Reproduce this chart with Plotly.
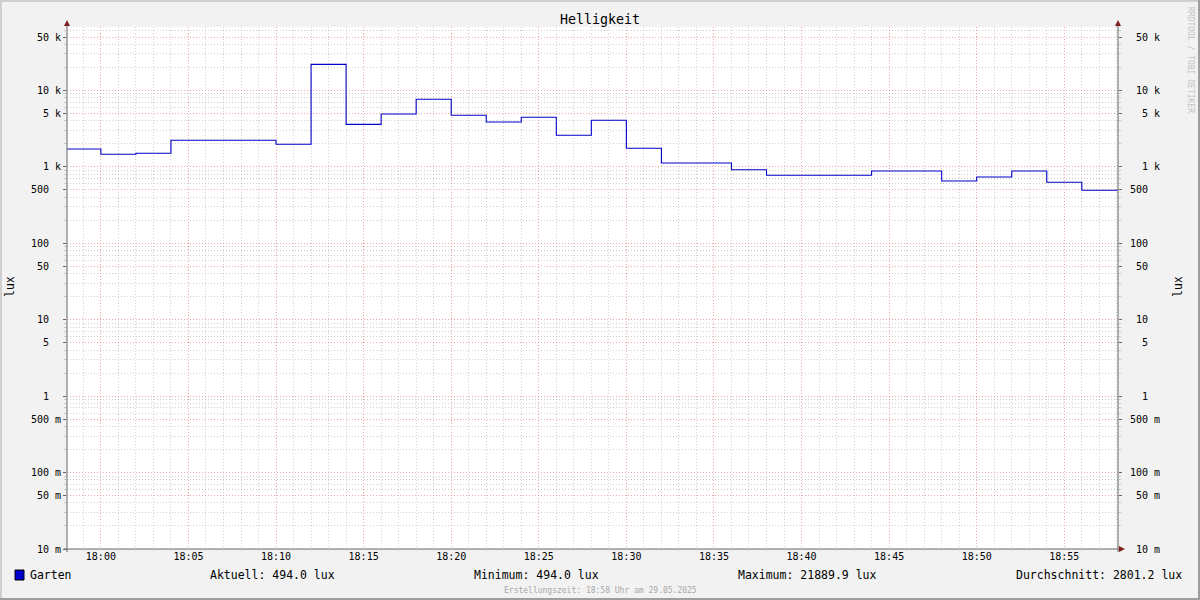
import plotly.graph_objects as go

# ---------------- data ----------------
DATE = "2025-05-29"
start_time = "17:58:04"
end_time = "18:58:04"
step_times = ["17:58:04", "18:00", "18:02", "18:04", "18:10", "18:12", "18:14", "18:16",
              "18:18", "18:20", "18:22", "18:24", "18:26", "18:28", "18:30", "18:32",
              "18:36", "18:38", "18:44", "18:48", "18:50", "18:52", "18:54", "18:56"]
lux_values = [1710, 1460, 1505, 2225, 1975, 21889.9, 3600, 4920,
              7650, 4730, 3860, 4450, 2590, 4065, 1750, 1123,
              918, 775, 883, 653, 737, 883, 628, 494.0]

y_tick_values = [0.01, 0.05, 0.1, 0.5, 1, 5, 10, 50, 100, 500, 1000, 5000, 10000, 50000]
y_tick_numbers = ["10", "50", "100", "500", "1", "5", "10", "50", "100", "500", "1", "5", "10", "50"]
y_tick_units = ["m", "m", "m", "m", "", "", "", "", "", "", "k", "k", "k", "k"]

title_text = "Helligkeit"
axis_label = "lux"
series_name = "Garten"
legend_stats = ["Aktuell: 494.0 lux", "Minimum: 494.0 lux",
                "Maximum: 21889.9 lux", "Durchschnitt: 2801.2 lux"]
footer_text = "Erstellungszeit: 18:58 Uhr am 29.05.2025"
watermark_text = "RRDTOOL / TOBI OETIKER"

# ---------------- geometry ----------------
W, H = 1200, 600
L, R, T, B = 67, 1118, 27, 549
PW, PH = R - L, B - T


def px(x):
    return (x - L) / PW


def py(y):
    return (B - y) / PH


FONT = "DejaVu Sans Mono"
LINE_COLOR = "#0000CC"
MINOR_GRID = "rgba(143,143,143,0.42)"
MAJOR_GRID = "rgba(222,79,79,0.50)"
AXIS_COLOR = "#666666"
ARROW_COLOR = "#801F1F"
NB = "\u00a0"

xs = [f"{DATE} {t}" if len(t) > 5 else f"{DATE} {t}:00" for t in step_times] + [f"{DATE} {end_time}"]
ys = lux_values + [lux_values[-1]]

labels = []
for n, u in zip(y_tick_numbers, y_tick_units):
    s = n + NB + (u if u else NB)
    labels.append(s.rjust(5, NB))
labels_right = [NB + s for s in labels]

minor_vals = []
for e in range(-2, 5):
    for d in (2, 3, 4, 6, 7, 8, 9):
        v = d * 10 ** e
        if v <= 67000:
            minor_vals.append(v)

fig = go.Figure()
fig.add_trace(go.Scatter(x=xs, y=ys, mode="lines", line=dict(color=LINE_COLOR, width=1.1, shape="hv"),
                         hoverinfo="skip", showlegend=False))
fig.add_trace(go.Scatter(x=xs, y=ys, mode="lines", line=dict(color="rgba(0,0,0,0)", width=0),
                         yaxis="y2", hoverinfo="skip", showlegend=False))

yax_common = dict(
    type="log", range=[-2, -2 + PH / 76.43],
    tickmode="array", tickvals=y_tick_values,
    tickfont=dict(family=FONT, size=10, color="black"),
    ticks="outside", ticklen=3, tickcolor=AXIS_COLOR, tickwidth=1,
    showline=False, zeroline=False, fixedrange=True,
)

fig.update_layout(
    width=W, height=H,
    margin=dict(l=L, r=W - R, t=T, b=H - B),
    paper_bgcolor="#F2F2F2", plot_bgcolor="white",
    showlegend=False,
    xaxis=dict(
        type="date", range=[f"{DATE} {start_time}", f"{DATE} {end_time}"],
        tick0=f"{DATE} 18:00:00", dtick=300000, tickformat="%H:%M",
        tickfont=dict(family=FONT, size=10, color="black"),
        showgrid=True, gridcolor=MAJOR_GRID, griddash="1px,2px", gridwidth=1,
        ticks="",
        minor=dict(dtick=60000, tick0=f"{DATE} 18:00:00", showgrid=True, gridcolor=MINOR_GRID,
                   griddash="1px,2px", ticks=""),
        showline=False, zeroline=False, fixedrange=True,
    ),
    yaxis=dict(
        **yax_common, ticktext=labels, side="left",
        showgrid=True, gridcolor=MAJOR_GRID, griddash="1px,2px", gridwidth=1,
        minor=dict(tickmode="array", tickvals=minor_vals, showgrid=True, gridcolor=MINOR_GRID,
                   griddash="1px,2px", ticks="outside", ticklen=2, tickcolor=MINOR_GRID),
    ),
    yaxis2=dict(
        **yax_common, ticktext=labels_right, side="right", overlaying="y", anchor="x",
        showgrid=False,
        minor=dict(tickmode="array", tickvals=minor_vals, showgrid=False,
                   ticks="outside", ticklen=2, tickcolor=MINOR_GRID),
    ),
)

shapes = []
# border shading
shapes += [
    dict(type="line", xref="paper", yref="paper", x0=px(0), x1=px(W), y0=py(1), y1=py(1),
         line=dict(color="#CFCFCF", width=2)),
    dict(type="line", xref="paper", yref="paper", x0=px(1), x1=px(1), y0=py(0), y1=py(H),
         line=dict(color="#CFCFCF", width=2)),
    dict(type="line", xref="paper", yref="paper", x0=px(0), x1=px(W), y0=py(H - 1), y1=py(H - 1),
         line=dict(color="#9E9E9E", width=2)),
    dict(type="line", xref="paper", yref="paper", x0=px(W - 1), x1=px(W - 1), y0=py(0), y1=py(H),
         line=dict(color="#9E9E9E", width=2)),
]
# axis lines
shapes += [
    dict(type="line", xref="paper", yref="paper", x0=px(L), x1=px(L), y0=py(B + 3), y1=py(24),
         line=dict(color=AXIS_COLOR, width=1)),
    dict(type="line", xref="paper", yref="paper", x0=px(R), x1=px(R), y0=py(B + 3), y1=py(24),
         line=dict(color=AXIS_COLOR, width=1)),
    dict(type="line", xref="paper", yref="paper", x0=px(L - 3), x1=px(R + 3), y0=py(B), y1=py(B),
         line=dict(color=AXIS_COLOR, width=1)),
]
# arrows
for ax in (L, R):
    shapes.append(dict(type="path", xref="paper", yref="paper",
                       path=f"M {px(ax - 3)},{py(26)} L {px(ax + 3)},{py(26)} L {px(ax)},{py(20)} Z",
                       fillcolor=ARROW_COLOR, line=dict(width=0)))
shapes.append(dict(type="path", xref="paper", yref="paper",
                   path=f"M {px(R + 1)},{py(B - 3)} L {px(R + 1)},{py(B + 3)} L {px(R + 7)},{py(B)} Z",
                   fillcolor=ARROW_COLOR, line=dict(width=0)))
# legend swatch
shapes.append(dict(type="rect", xref="paper", yref="paper", x0=px(15), x1=px(24), y0=py(570), y1=py(580),
                   fillcolor=LINE_COLOR, line=dict(color="black", width=1)))
fig.update_layout(shapes=shapes)

ann = []


def text(x, y, s, size, color="black", xanchor="left", angle=0):
    ann.append(dict(x=px(x), y=py(y), xref="paper", yref="paper", text=s, showarrow=False,
                    xanchor=xanchor, yanchor="middle", textangle=angle, borderpad=0, borderwidth=0,
                    font=dict(family=FONT, size=size, color=color)))


text(600, 19, title_text, 13.3, xanchor="center")
text(10, 287, axis_label, 11.5, xanchor="center", angle=-90)
text(1178, 287, axis_label, 11.5, xanchor="center", angle=-90)
text(1190, 60, watermark_text, 8, color="#C4C4C4", xanchor="center", angle=90)
text(30, 575, series_name, 11.5)
for xpos, s in zip([210, 474, 738, 1016], legend_stats):
    text(xpos, 575, s, 11.5)
text(600, 590, footer_text, 8, color="#A8A8A8", xanchor="center")
fig.update_layout(annotations=ann)

fig.write_html("out.html", config={"displayModeBar": False},
               post_script="document.body.style.margin='0';document.body.style.overflow='hidden';")
